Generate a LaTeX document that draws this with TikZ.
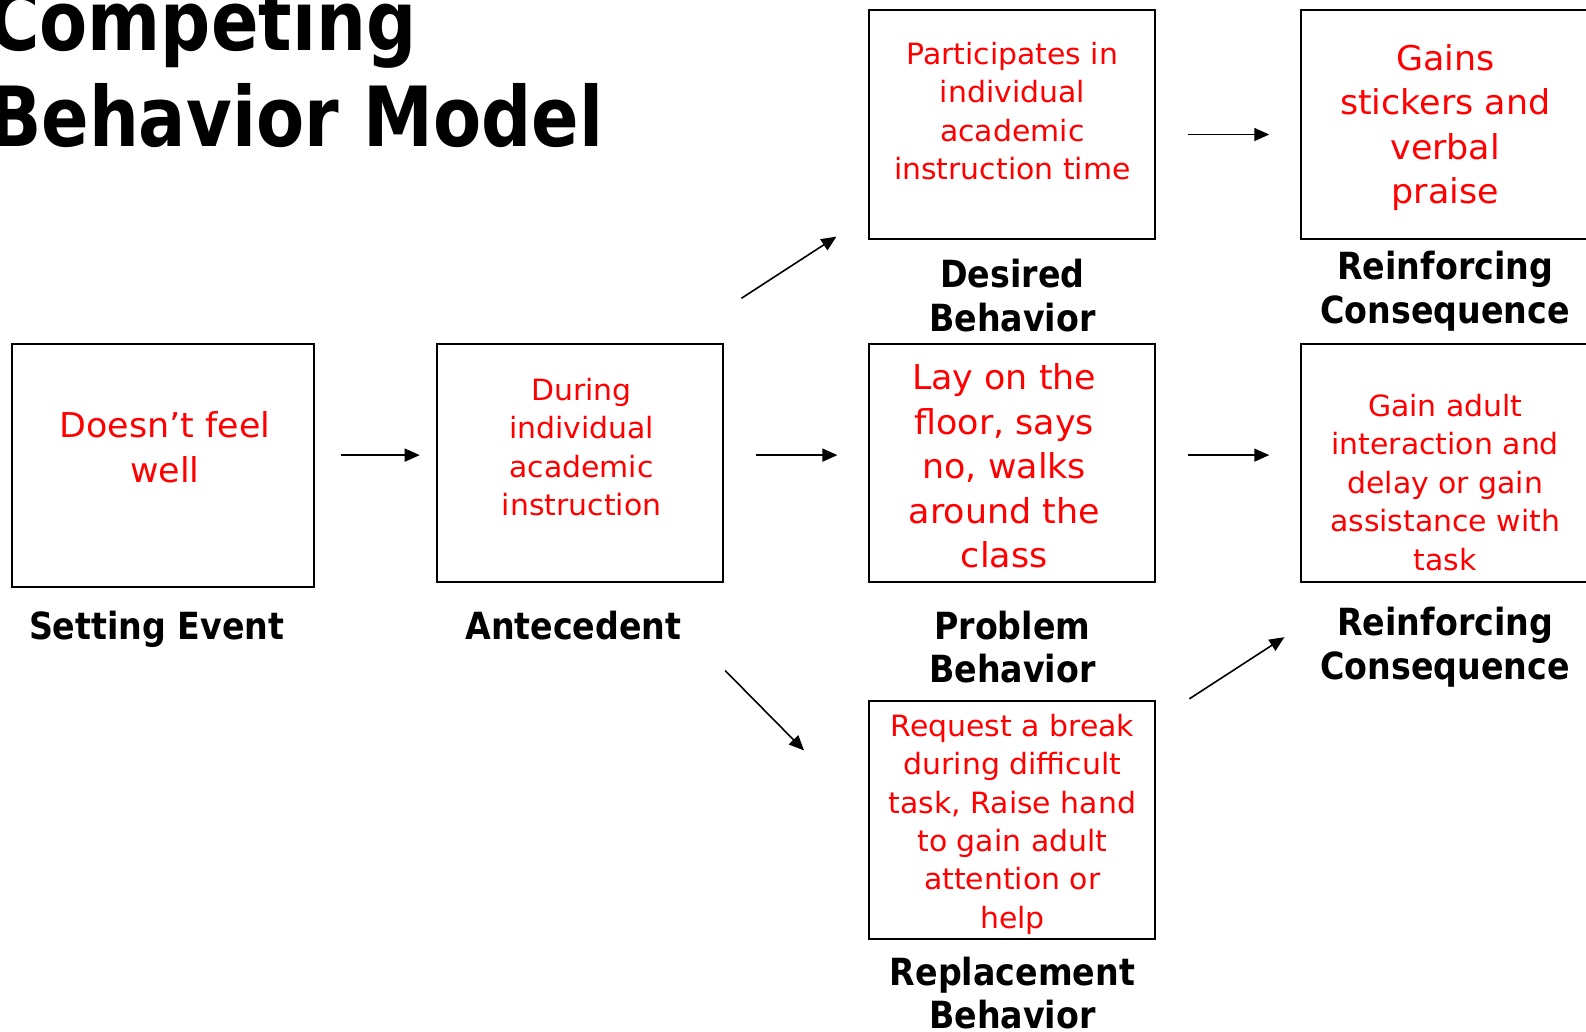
\documentclass[tikz,border=0pt]{standalone}
\usepackage{fontspec}
\setmainfont{DejaVu Sans}
\newfontfamily\redfont[FakeStretch=1.02]{DejaVu Sans}
\newfontfamily\labfont[FakeStretch=0.89]{DejaVu Sans}
\newfontfamily\titfont[FakeStretch=0.845]{DejaVu Sans}
\usetikzlibrary{arrows.meta}
\begin{document}
\begin{tikzpicture}[x=1.01135pt,y=-1.01135pt,
  box/.style={draw=black, line width=2pt, inner sep=0pt, anchor=north west},
  rsmall/.style={text=red, align=center, font=\redfont\fontsize{29.3}{38.4}\selectfont, inner sep=0pt},
  rbig/.style={text=red, align=center, font=\redfont\fontsize{34.2}{44.5}\selectfont, inner sep=0pt},
  lab/.style={align=center, font=\labfont\bfseries\fontsize{37.4}{43.5}\selectfont, inner sep=0pt},
  tit/.style={anchor=base west, font=\titfont\bfseries\fontsize{83}{96}\selectfont, inner sep=0pt},
  conn/.style={-{Triangle[length=15pt,width=13pt]}, line width=1.6pt}]
\useasboundingbox (0,0) rectangle (1568.2,1020.4);
\clip (0,0) rectangle (1568.2,1020.4);

% title
\node[tit] (t1) at (-12,50) {Competing};
\node[tit] (t2) at (-12,145) {Behavior Model};

% boxes
\node[box, minimum width=302, minimum height=243] (se) at (10.5,339) {};
\node[box, minimum width=286, minimum height=238] (an) at (431.5,339) {};
\node[box, minimum width=286, minimum height=229] (de) at (858.5,8.5) {};
\node[box, minimum width=286, minimum height=238] (pb) at (858.5,339) {};
\node[box, minimum width=286, minimum height=238] (rb) at (858.5,692) {};
\node[box, minimum width=340, minimum height=229] (rc1) at (1285.5,8.5) {};
\node[box, minimum width=340, minimum height=238] (rc2) at (1285.5,339) {};

% box texts
\node[rbig] (set) at (163,442) {Doesn’t feel\\well};
\node[rsmall] (ant) at (575,442) {During\\individual\\academic\\instruction};
\node[rsmall] (det) at (1001,110) {Participates in\\individual\\academic\\instruction time};
\node[rbig] (pbt) at (993,461) {Lay on the\\floor, says\\no, walks\\around the\\class};
\node[rsmall] (rbt) at (1001,815) {Request a break\\during difficult\\task, Raise hand\\to gain adult\\attention or\\help};
\node[rbig] (rc1t) at (1429,126) {Gains\\stickers and\\verbal\\praise};
\node[rsmall] (rc2t) at (1429,477) {Gain adult\\interaction and\\delay or gain\\assistance with\\task};

% labels
\node[lab] (sel) at (155,622) {Setting Event};
\node[lab] (anl) at (567,619) {Antecedent};
\node[lab] (del) at (1001,292) {Desired\\Behavior};
\node[lab] (rc1l) at (1429,288) {Reinforcing\\Consequence};
\node[lab] (pbl) at (1001,640) {Problem\\Behavior};
\node[lab] (rc2l) at (1429,640) {Reinforcing\\Consequence};
\node[lab] (rbl) at (1001,982) {Replacement\\Behavior};

% arrow end points
\coordinate (a1s) at (337,450); \coordinate (a1e) at (415,450);
\coordinate (a2s) at (748,450); \coordinate (a2e) at (828,450);
\coordinate (a3s) at (1175,450); \coordinate (a3e) at (1255,450);
\coordinate (a4s) at (1175,133); \coordinate (a4e) at (1255,133);
\coordinate (a5s) at (733,295); \coordinate (a5e) at (827,234);
\coordinate (a6s) at (717,663); \coordinate (a6e) at (795,742);
\coordinate (a7s) at (1176,691); \coordinate (a7e) at (1270,630);

\draw[conn] (a1s) -- (a1e);
\draw[conn] (a2s) -- (a2e);
\draw[conn] (a3s) -- (a3e);
\draw[conn] (a4s) -- (a4e);
\draw[conn] (a5s) -- (a5e);
\draw[conn] (a6s) -- (a6e);
\draw[conn] (a7s) -- (a7e);
\end{tikzpicture}
\end{document}
